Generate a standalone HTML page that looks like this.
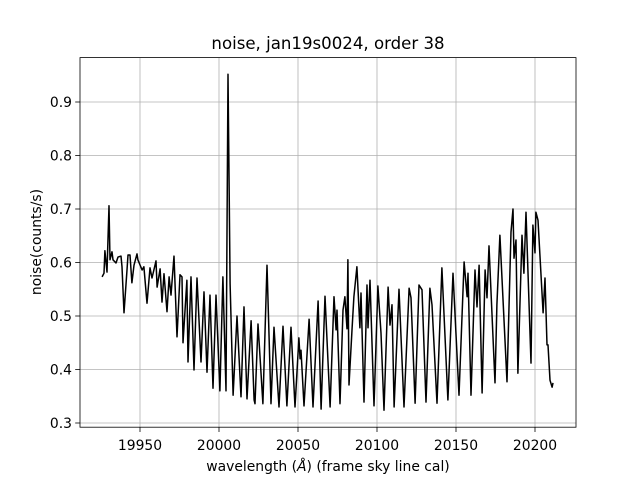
<!DOCTYPE html>
<html><head><meta charset="utf-8"><style>
body{margin:0;background:#fff}
svg text{font-family:"DejaVu Sans","Liberation Sans",sans-serif;fill:#000}
</style></head><body>
<svg id="chart" width="640" height="480" viewBox="0 0 640 480">
<rect width="640" height="480" fill="#fff"/>
<text x="328" y="49" font-size="16.6" text-anchor="middle">noise, jan19s0024, order 38</text>
<g id="grid"></g>
<g id="ticks"></g>
<polyline id="line" fill="none" stroke="#000" stroke-width="1.5" stroke-linejoin="round"/>
<rect x="80" y="57.6" width="496" height="369.6" fill="none" stroke="#000" stroke-width="0.8"/>
<text x="328" y="471" font-size="13.9" text-anchor="middle">wavelength (<tspan font-style="italic">Å</tspan>) (frame sky line cal)</text>
<text transform="translate(41,242) rotate(-90)" font-size="13.9" text-anchor="middle">noise(counts/s)</text>
</svg>
<script>
const wavelengths=[19926.0,19927.2,19927.8,19929.1,19930.4,19931.0,19932.3,19932.9,19934.8,19936.1,19938.0,19938.6,19939.9,19941.8,19942.4,19943.7,19944.9,19946.2,19948.1,19948.7,19951.3,19952.5,19954.4,19956.3,19957.6,19960.1,19960.8,19962.7,19963.9,19965.2,19967.1,19968.4,19969.6,19971.5,19973.4,19975.3,19976.6,19977.2,19979.7,19980.4,19982.3,19984.2,19986.1,19988.6,19990.5,19992.4,19994.3,19996.2,19998.1,20000.6,20002.5,20004.4,20005.7,20007.0,20008.9,20011.4,20013.9,20015.8,20017.7,20020.3,20022.2,
20022.8,20024.7,20027.8,20030.4,20032.9,20034.8,20038.0,20040.5,20043.0,20045.6,20048.1,20050.6,20051.3,20051.9,20053.8,20057.0,20059.5,20062.7,20064.6,20067.1,20070.3,20072.8,20074.1,20074.7,20076.6,20078.5,20079.7,20081.0,20081.6,20082.3,20084.2,20085.4,20087.3,20089.2,20089.9,20091.8,20093.7,20094.3,20095.6,20098.1,20100.6,20102.5,20104.4,20107.0,20108.2,20109.5,20110.8,20113.9,20117.1,20120.3,
20121.5,20124.1,20126.6,20128.5,20131.0,20133.5,20134.8,20138.0,20141.1,20144.9,20148.1,20151.9,20155.1,20157.0,20157.6,20159.5,20162.0,20163.3,20164.6,20166.5,20168.4,20169.6,20170.9,20174.7,20175.9,20177.8,20182.3,20184.8,20186.1,20186.7,20188.0,20189.2,20191.8,20193.0,20194.3,20197.5,20198.7,20200.0,20200.6,20201.9,20205.1,20206.3,20207.6,20208.2,20209.5,20210.8,20211.4];
const noise=[0.573,0.580,0.622,0.582,0.706,0.605,0.620,0.605,0.599,0.610,0.612,0.592,0.506,0.586,0.614,0.614,0.562,0.595,0.616,0.605,0.586,0.592,0.524,0.590,0.571,0.603,0.554,0.588,0.526,0.579,0.508,0.573,0.539,0.612,0.461,0.577,0.573,0.450,0.567,0.414,0.573,0.399,0.571,0.414,0.545,0.395,0.539,0.365,0.539,0.360,0.573,0.360,0.952,0.560,0.352,0.500,0.349,0.517,0.345,0.491,0.343,
0.336,0.485,0.336,0.595,0.336,0.479,0.330,0.481,0.332,0.479,0.330,0.459,0.420,0.436,0.332,0.494,0.330,0.528,0.326,0.537,0.330,0.536,0.474,0.511,0.336,0.511,0.536,0.476,0.605,0.371,0.474,0.536,0.592,0.478,0.543,0.339,0.558,0.478,0.567,0.332,0.556,0.468,0.324,0.554,0.483,0.521,0.330,0.550,0.330,0.552,
0.534,0.337,0.558,0.549,0.339,0.552,0.521,0.337,0.590,0.343,0.580,0.352,0.601,0.536,0.580,0.352,0.586,0.517,0.595,0.356,0.586,0.534,0.631,0.375,0.521,0.651,0.377,0.657,0.700,0.608,0.642,0.393,0.651,0.580,0.694,0.412,0.670,0.618,0.694,0.679,0.506,0.571,0.446,0.446,0.380,0.367,0.375];
const xTicks=[19950,20000,20050,20100,20150,20200];
const yTicks=[0.3,0.4,0.5,0.6,0.7,0.8,0.9];

const NS='http://www.w3.org/2000/svg';
function xs(v){return 140+(v-19950)*1.58;}
function ys(v){return 102-(v-0.9)*535;}
const grid=document.getElementById('grid'), ticks=document.getElementById('ticks');
xTicks.forEach(t=>{
  const x=xs(t);
  const g=document.createElementNS(NS,'line');
  g.setAttribute('x1',x);g.setAttribute('x2',x);g.setAttribute('y1',57.6);g.setAttribute('y2',427.2);
  g.setAttribute('stroke','#b0b0b0');g.setAttribute('stroke-width','0.8');
  
  
  grid.appendChild(g);
  const k=document.createElementNS(NS,'line');
  k.setAttribute('x1',x);k.setAttribute('x2',x);k.setAttribute('y1',427.2);k.setAttribute('y2',432);
  k.setAttribute('stroke','#000');k.setAttribute('stroke-width','0.8');
  
  
  ticks.appendChild(k);
  const tx=document.createElementNS(NS,'text');
  tx.setAttribute('x',x);tx.setAttribute('y',450);tx.setAttribute('font-size','13.9');tx.setAttribute('text-anchor','middle');
  tx.textContent=t;
  
  
  ticks.appendChild(tx);
});
yTicks.forEach(t=>{
  const y=ys(t);
  const g=document.createElementNS(NS,'line');
  g.setAttribute('x1',80);g.setAttribute('x2',576);g.setAttribute('y1',y);g.setAttribute('y2',y);
  g.setAttribute('stroke','#b0b0b0');g.setAttribute('stroke-width','0.8');
  
  
  grid.appendChild(g);
  const k=document.createElementNS(NS,'line');
  k.setAttribute('x1',75.2);k.setAttribute('x2',80);k.setAttribute('y1',y);k.setAttribute('y2',y);
  k.setAttribute('stroke','#000');k.setAttribute('stroke-width','0.8');
  
  
  ticks.appendChild(k);
  const tx=document.createElementNS(NS,'text');
  tx.setAttribute('x',72);tx.setAttribute('y',y+5);tx.setAttribute('font-size','13.9');tx.setAttribute('text-anchor','end');
  tx.textContent=t.toFixed(1);
  
  
  ticks.appendChild(tx);
});
document.getElementById('line').setAttribute('points',wavelengths.map((w,i)=>xs(w).toFixed(1)+','+ys(noise[i]).toFixed(1)).join(' '));
</script>
</body></html>
